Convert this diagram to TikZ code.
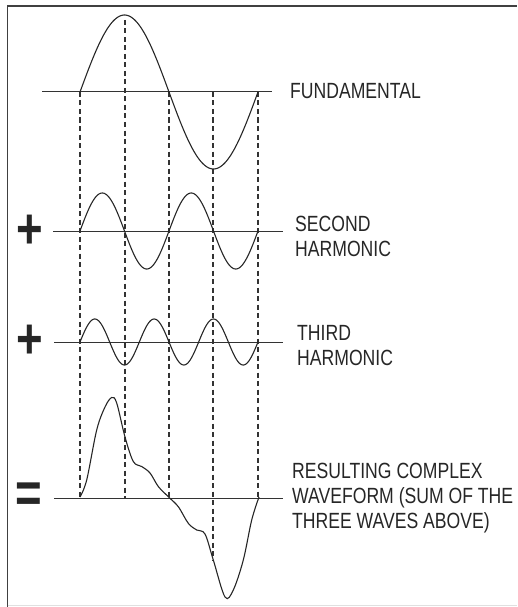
\documentclass[tikz,border=0pt]{standalone}
\usepackage{fontspec}
\setmainfont{Liberation Sans}[FakeStretch=0.8]

\begin{document}
\begin{tikzpicture}[x=1pt,y=-1pt,
  wave/.style={line width=1.1pt,black!85},
  axis/.style={line width=1pt,black!80},
  guide/.style={line width=1.1pt,black!80,dash pattern=on 5pt off 3.5pt},
  wavelabel/.style={anchor=north west,inner sep=0pt,align=left,text=black!85,
    font=\fontsize{22}{25}\selectfont},
  sign/.style={inner sep=0pt,text=black!85,font=\fontsize{57}{57}\selectfont\bfseries}]
  \useasboundingbox (0,0) rectangle (517,607);
  % Frame, open on the right.
  \draw[line width=1.5pt,black!75] (7.5,607) -- (7.5,6) -- (517,6);
  \draw[black!12] (7.5,605.5) -- (517,605.5);
  % Zero lines of the four traces.
  \draw[axis] (42,92) -- (272,92);
  \draw[axis] (53,231) -- (283,231);
  \draw[axis] (54,342) -- (283,342);
  \draw[axis] (54,498) -- (283,498);
  % Dashed guides through the quarter periods.
  \foreach \gx/\gtop/\gbot in {80/92/497, 125/20/499, 169/92/498, 213/92/560, 258/92/498}
    \draw[guide] (\gx,\gtop) -- (\gx,\gbot);
  % Fundamental, second and third harmonics.
  \draw[wave] plot[domain=80:258,samples=120] (\x,{92-77*sin(2.0225*(\x-80))});
  \draw[wave] plot[domain=80:258,samples=160] (\x,{231-38*sin(4.045*(\x-80))});
  \draw[wave] plot[domain=80:258,samples=200] (\x,{342-23*sin(6.0674*(\x-80))});
  % The sum, traced by hand.
  \draw[wave] plot[smooth,tension=0.55] coordinates {(80,497) (86.7,480) (96.7,430)
    (105,407) (111.7,397.5) (116.7,403) (125,437) (133.3,461.5) (141.7,466.5)
    (150,473) (158.3,486.5) (168.3,496.7) (178.3,506.7) (188.3,523.3) (196.7,530)
    (205,534) (213.3,560) (225,597) (233.3,590) (243.3,560) (251.7,520) (259,497)};
  % Signs on the left.
  \node[sign] (plus2) at (30,232) {+};
  \node[sign] (plus3) at (30,342) {+};
  \node[sign] (equals) at (29,498) {=};
  % Labels on the right.
  \node[wavelabel] (fundlabel) at (290,83) {FUNDAMENTAL};
  \node[wavelabel] (secondlabel) at (295,216) {SECOND\\HARMONIC};
  \node[wavelabel] (thirdlabel) at (297,325) {THIRD\\HARMONIC};
  \node[wavelabel] (sumlabel) at (292,463) {RESULTING COMPLEX\\WAVEFORM (SUM OF THE\\THREE WAVES ABOVE)};
\end{tikzpicture}
\end{document}
